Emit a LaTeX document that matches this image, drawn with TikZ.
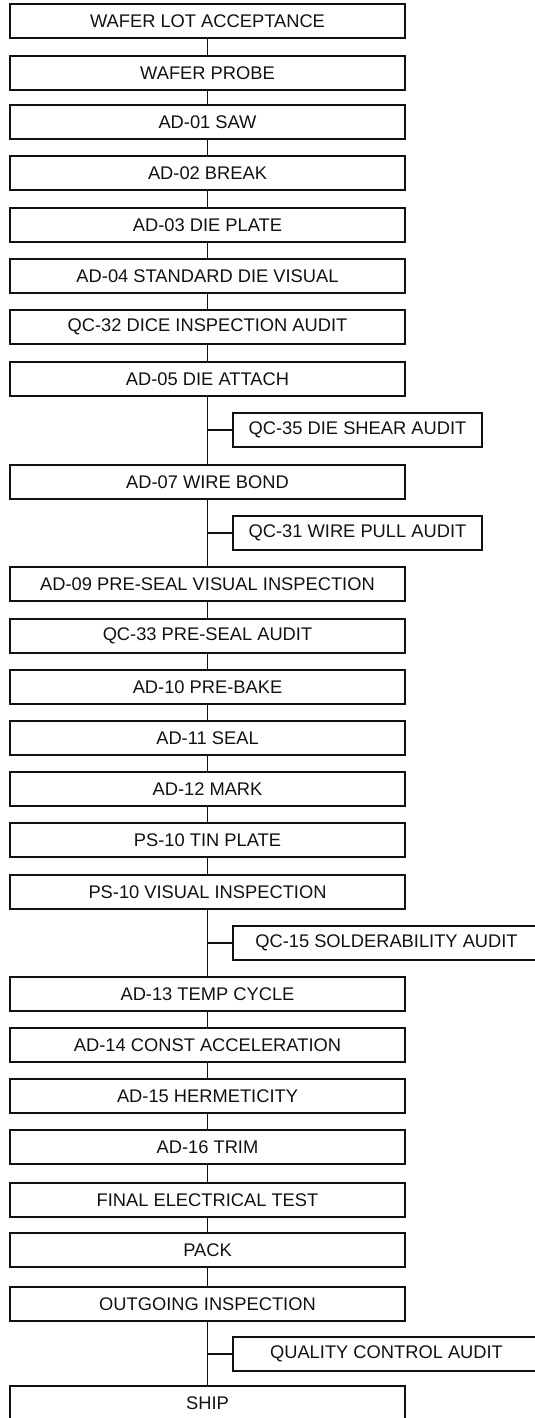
\documentclass[tikz,border=0pt]{standalone}
\usepackage{fontspec}
\setmainfont{Liberation Sans}
\usepackage{xcolor}
\definecolor{flowink}{HTML}{111111}

\begin{document}
\begin{tikzpicture}[
    x=1pt, y=-1pt,
    procbox/.style={draw=flowink, line width=1.8pt, minimum width=395pt, minimum height=34pt,
      inner sep=0pt, font=\fontsize{18.3}{20}\selectfont, text=flowink},
    auditbox/.style={procbox, minimum width=249pt},
    widebox/.style={procbox, minimum width=307pt},
    flow/.style={draw=flowink, line width=1.7pt},
  ]
  \useasboundingbox (0,0) rectangle (535,1418);

  % ---- main column of process steps
  \node[procbox] (lot)     at (207.5,21)   {WAFER LOT ACCEPTANCE};
  \node[procbox] (probe)   at (207.5,73)   {WAFER PROBE};
  \node[procbox] (saw)     at (207.5,122)  {AD-01 SAW};
  \node[procbox] (brk)     at (207.5,173)  {AD-02 BREAK};
  \node[procbox] (plate)   at (207.5,225)  {AD-03 DIE PLATE};
  \node[procbox] (dievis)  at (207.5,276)  {AD-04 STANDARD DIE VISUAL};
  \node[procbox] (dice)    at (207.5,327)  {QC-32 DICE INSPECTION AUDIT};
  \node[procbox] (attach)  at (207.5,379)  {AD-05 DIE ATTACH};
  \node[procbox] (bond)    at (207.5,482)  {AD-07 WIRE BOND};
  \node[procbox] (preseal) at (207.5,584)  {AD-09 PRE-SEAL VISUAL INSPECTION};
  \node[procbox] (psaudit) at (207.5,636)  {QC-33 PRE-SEAL AUDIT};
  \node[procbox] (bake)    at (207.5,687)  {AD-10 PRE-BAKE};
  \node[procbox] (seal)    at (207.5,738)  {AD-11 SEAL};
  \node[procbox] (mark)    at (207.5,789)  {AD-12 MARK};
  \node[procbox] (tin)     at (207.5,840)  {PS-10 TIN PLATE};
  \node[procbox] (tinvis)  at (207.5,892)  {PS-10 VISUAL INSPECTION};
  \node[procbox] (temp)    at (207.5,994)  {AD-13 TEMP CYCLE};
  \node[procbox] (accel)   at (207.5,1045) {AD-14 CONST ACCELERATION};
  \node[procbox] (herm)    at (207.5,1096) {AD-15 HERMETICITY};
  \node[procbox] (trim)    at (207.5,1147) {AD-16 TRIM};
  \node[procbox] (final)   at (207.5,1200) {FINAL ELECTRICAL TEST};
  \node[procbox] (pack)    at (207.5,1250) {PACK};
  \node[procbox] (outgo)   at (207.5,1304) {OUTGOING INSPECTION};
  \node[procbox] (ship)    at (207.5,1403) {SHIP};

  % ---- audits hanging off the line
  \node[auditbox] (shear)  at (357.5,430)  {QC-35 DIE SHEAR AUDIT};
  \node[auditbox] (pull)   at (357.5,533)  {QC-31 WIRE PULL AUDIT};
  \node[widebox]  (solder) at (386.5,943)  {QC-15 SOLDERABILITY AUDIT};
  \node[widebox]  (qcaud)  at (386.5,1354) {QUALITY CONTROL AUDIT};

  % ---- connectors
  \draw[flow] (lot) -- (probe);     \draw[flow] (probe) -- (saw);
  \draw[flow] (saw) -- (brk);       \draw[flow] (brk) -- (plate);
  \draw[flow] (plate) -- (dievis);  \draw[flow] (dievis) -- (dice);
  \draw[flow] (dice) -- (attach);   \draw[flow] (attach) -- (bond);
  \draw[flow] (bond) -- (preseal);  \draw[flow] (preseal) -- (psaudit);
  \draw[flow] (psaudit) -- (bake);  \draw[flow] (bake) -- (seal);
  \draw[flow] (seal) -- (mark);     \draw[flow] (mark) -- (tin);
  \draw[flow] (tin) -- (tinvis);    \draw[flow] (tinvis) -- (temp);
  \draw[flow] (temp) -- (accel);    \draw[flow] (accel) -- (herm);
  \draw[flow] (herm) -- (trim);     \draw[flow] (trim) -- (final);
  \draw[flow] (final) -- (pack);    \draw[flow] (pack) -- (outgo);
  \draw[flow] (outgo) -- (ship);
  \draw[flow] (attach.south |- shear.west) -- (shear.west);
  \draw[flow] (bond.south |- pull.west) -- (pull.west);
  \draw[flow] (tinvis.south |- solder.west) -- (solder.west);
  \draw[flow] (outgo.south |- qcaud.west) -- (qcaud.west);
\end{tikzpicture}
\end{document}
